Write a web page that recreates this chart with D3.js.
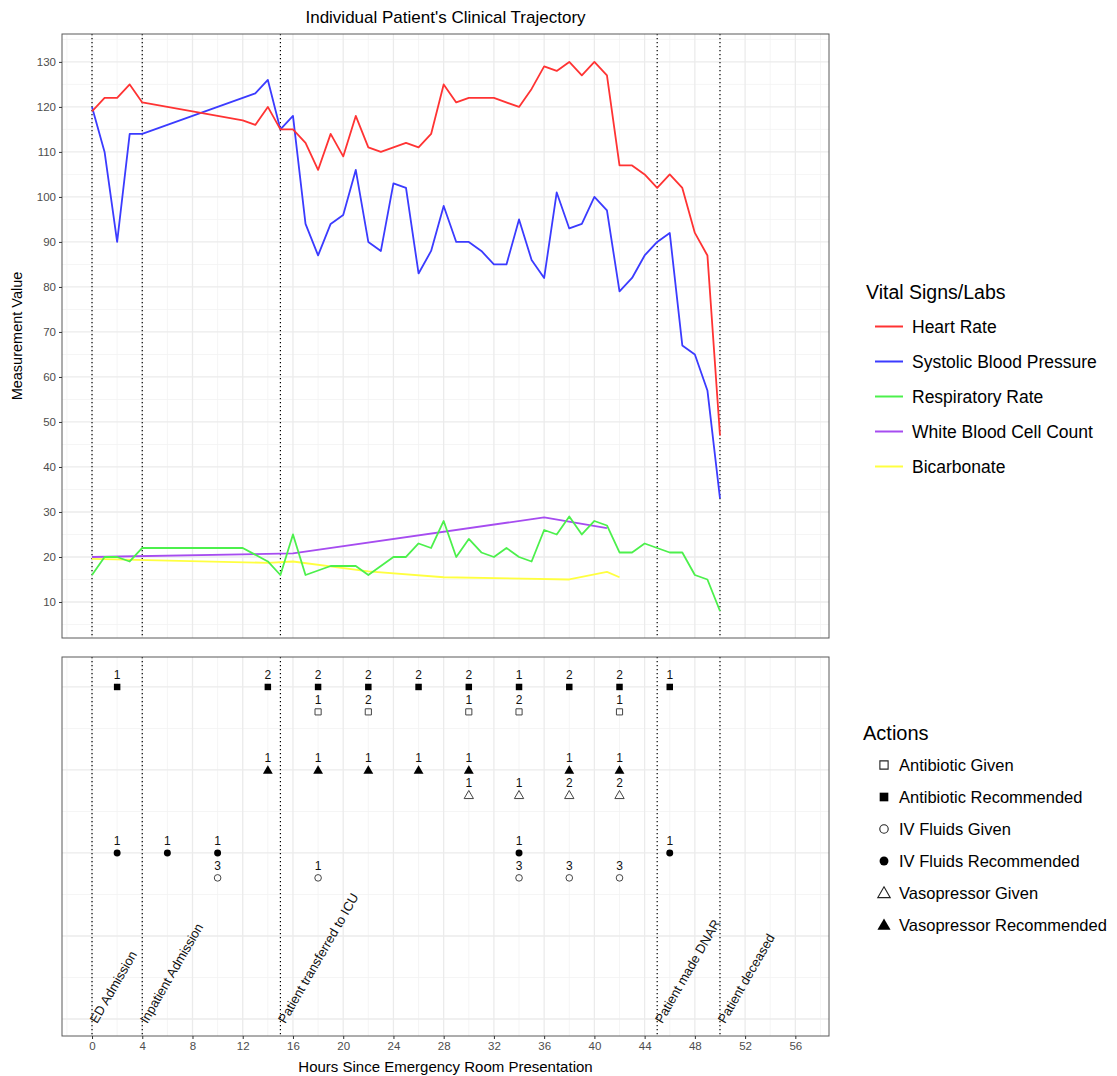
<!DOCTYPE html>
<html>
<head>
<meta charset="utf-8">
<script src="https://cdn.jsdelivr.net/npm/d3@7"></script>
<style>
  body { margin: 0; background: #fff; }
  svg { font-family: "Liberation Sans", Arial, Helvetica, sans-serif; }
</style>
</head>
<body>
<svg id="chart" width="1117" height="1076"></svg>
<script>
// ---------- DATA ----------
const hrHours = [0,1,2,3,4,12,13,14,15,16,17,18,19,20,21,22,23,24,25,26,27,28,29,30,32,34,35,36,37,38,39,40,41,42,43,44,45,46,47,48,49,50];
const hrValues = [119,122,122,125,121,117,116,120,115,115,112,106,114,109,118,111,110,111,112,111,114,125,121,122,122,120,124,129,128,130,127,130,127,107,107,105,102,105,102,92,87,47];

const sbpHours = [0,1,2,3,4,13,14,15,16,17,18,19,20,21,22,23,24,25,26,27,28,29,30,31,32,33,34,35,36,37,38,39,40,41,42,43,44,45,46,47,48,49,50];
const sbpValues = [120,110,90,114,114,123,126,115,118,94,87,94,96,106,90,88,103,102,83,88,98,90,90,88,85,85,95,86,82,101,93,94,100,97,79,82,87,90,92,67,65,57,33];

const rrHours = [0,1,2,3,4,12,14,15,16,17,18,19,21,22,24,25,26,27,28,29,30,31,32,33,34,35,36,37,38,39,40,41,42,43,44,45,46,47,48,49,50];
const rrValues = [16,20,20,19,22,22,19,16,25,16,17,18,18,16,20,20,23,22,28,20,24,21,20,22,20,19,26,25,29,25,28,27,21,21,23,22,21,21,16,15,8];

const wbcHours = [0,16,36,41];
const wbcValues = [20,20.8,28.8,26.4];

const bicarbHours = [0,14,16,22,28,38,41,42];
const bicarbValues = [19.6,18.7,19.0,16.8,15.5,15.0,16.7,15.5];

const seriesNames = ["Heart Rate","Systolic Blood Pressure","Respiratory Rate","White Blood Cell Count","Bicarbonate"];
const seriesColors = ["#ff3333","#3b3bff","#4cf04c","#a64cf0","#ffff40"];

const eventHours = [0,4,15,45,50];
const eventLabels = ["ED Admission","Inpatient Admission","Patient transferred to ICU","Patient made DNAR","Patient deceased"];

const abxRecHours = [2,14,18,22,26,30,34,38,42,46];
const abxRecCounts = [1,2,2,2,2,2,1,2,2,1];
const abxGivenHours = [18,22,30,34,42];
const abxGivenCounts = [1,2,1,2,1];
const vasoRecHours = [14,18,22,26,30,38,42];
const vasoRecCounts = [1,1,1,1,1,1,1];
const vasoGivenHours = [30,34,38,42];
const vasoGivenCounts = [1,1,2,2];
const ivRecHours = [2,6,10,34,46];
const ivRecCounts = [1,1,1,1,1];
const ivGivenHours = [10,18,34,38,42];
const ivGivenCounts = [3,1,3,3,3];

const actionNames = ["Antibiotic Given","Antibiotic Recommended","IV Fluids Given","IV Fluids Recommended","Vasopressor Given","Vasopressor Recommended"];

const xTicks = d3.range(0, 57, 4);
const yTicks = d3.range(10, 131, 10);

// ---------- LAYOUT ----------
const svg = d3.select("#chart");
const P = { left: 62, right: 829, top1: 34, bot1: 638, top2: 657, bot2: 1036 };

const x = d3.scaleLinear().domain([-2.39, 58.68]).range([P.left, P.right]);
const y = d3.scaleLinear().domain([2.0, 136.2]).range([P.bot1, P.top1]);
const y2 = d3.scaleLinear().domain([0.795, 5.361]).range([P.bot2, P.top2]);

function grid(g, yScale, yMajor, yMinor, top, bot) {
  g.append("rect").attr("x", P.left).attr("y", top).attr("width", P.right - P.left).attr("height", bot - top).attr("fill", "#fff");
  const xMinor = d3.range(-2, 59, 2).filter(v => v % 4 !== 0 && x(v) > P.left && x(v) < P.right);
  const xMajor = d3.range(0, 59, 4);
  g.selectAll(".xmin").data(xMinor).join("line")
    .attr("x1", d => x(d)).attr("x2", d => x(d)).attr("y1", top).attr("y2", bot)
    .attr("stroke", "#f2f2f2").attr("stroke-width", 0.8);
  g.selectAll(".ymin").data(yMinor).join("line")
    .attr("x1", P.left).attr("x2", P.right).attr("y1", d => yScale(d)).attr("y2", d => yScale(d))
    .attr("stroke", "#f2f2f2").attr("stroke-width", 0.8);
  g.selectAll(".xmaj").data(xMajor).join("line")
    .attr("x1", d => x(d)).attr("x2", d => x(d)).attr("y1", top).attr("y2", bot)
    .attr("stroke", "#ebebeb").attr("stroke-width", 1.3);
  g.selectAll(".ymaj").data(yMajor).join("line")
    .attr("x1", P.left).attr("x2", P.right).attr("y1", d => yScale(d)).attr("y2", d => yScale(d))
    .attr("stroke", "#ebebeb").attr("stroke-width", 1.3);
}

const g1 = svg.append("g");
grid(g1, y, yTicks, d3.range(5, 136, 10), P.top1, P.bot1);
const g2 = svg.append("g");
grid(g2, y2, [1,2,3,4,5], [1.5,2.5,3.5,4.5], P.top2, P.bot2);

// event lines
[[g1, P.top1, P.bot1], [g2, P.top2, P.bot2]].forEach(([g, t, b]) => {
  g.selectAll(".ev").data(eventHours).join("line")
    .attr("x1", d => x(d)).attr("x2", d => x(d)).attr("y1", t).attr("y2", b)
    .attr("stroke", "#000").attr("stroke-width", 1.2).attr("stroke-dasharray", "1.3,2.7");
});

// series lines
const seriesHours = [hrHours, sbpHours, rrHours, wbcHours, bicarbHours];
const seriesValues = [hrValues, sbpValues, rrValues, wbcValues, bicarbValues];
const line = d3.line().x(d => x(d[0])).y(d => y(d[1]));
[4,3,2,1,0].forEach(i => {
  const pts = seriesHours[i].map((h, j) => [h, seriesValues[i][j]]);
  g1.append("path").datum(pts).attr("d", line)
    .attr("fill", "none").attr("stroke", seriesColors[i]).attr("stroke-width", 1.8)
    .attr("stroke-linejoin", "round");
});

// panel borders
[[P.top1, P.bot1], [P.top2, P.bot2]].forEach(([t, b]) => {
  svg.append("rect").attr("x", P.left).attr("y", t).attr("width", P.right - P.left).attr("height", b - t)
    .attr("fill", "none").attr("stroke", "#5a5a5a").attr("stroke-width", 1);
});

// y axis (top panel)
const yAxisG = svg.append("g").attr("transform", `translate(${P.left},0)`)
  .call(d3.axisLeft(y).tickValues(yTicks).tickSize(3).tickPadding(3));
yAxisG.select(".domain").remove();
yAxisG.selectAll(".tick line").attr("stroke", "#333");
yAxisG.selectAll(".tick text").attr("fill", "#4d4d4d").style("font-size", "11.5px")
  .style("font-family", "'Liberation Sans', Arial, sans-serif");

// x axis (bottom panel)
const xAxisG = svg.append("g").attr("transform", `translate(0,${P.bot2})`)
  .call(d3.axisBottom(x).tickValues(xTicks).tickSize(3).tickPadding(3));
xAxisG.select(".domain").remove();
xAxisG.selectAll(".tick line").attr("stroke", "#333");
xAxisG.selectAll(".tick text").attr("fill", "#4d4d4d").style("font-size", "11.5px")
  .style("font-family", "'Liberation Sans', Arial, sans-serif");

// titles
svg.append("text").attr("x", (P.left + P.right) / 2).attr("y", 17).attr("text-anchor", "middle")
  .attr("dominant-baseline", "central").style("font-size", "17px").text("Individual Patient's Clinical Trajectory");
svg.append("text").attr("transform", `translate(17,${(P.top1 + P.bot1) / 2}) rotate(-90)`)
  .attr("text-anchor", "middle").attr("dominant-baseline", "central").style("font-size", "14.5px").text("Measurement Value");
svg.append("text").attr("x", (P.left + P.right) / 2).attr("y", 1066).attr("text-anchor", "middle")
  .attr("dominant-baseline", "central").style("font-size", "15px").text("Hours Since Emergency Room Presentation");

// event labels
g2.selectAll(".evl").data(eventHours).join("text")
  .attr("transform", d => `translate(${x(d) + 1},${y2(1) + 3}) rotate(-60)`)
  .attr("dy", "0.35em").attr("text-anchor", "start")
  .style("font-size", "13px").attr("fill", "#111")
  .text((d, i) => eventLabels[i]);

// actions
const sym = (type, size) => d3.symbol().type(type).size(size)();
const actionLayers = [
  { hours: abxRecHours, counts: abxRecCounts, yv: 5, type: d3.symbolSquare, filled: true },
  { hours: abxGivenHours, counts: abxGivenCounts, yv: 4.7, type: d3.symbolSquare, filled: false },
  { hours: vasoRecHours, counts: vasoRecCounts, yv: 4, type: d3.symbolTriangle, filled: true },
  { hours: vasoGivenHours, counts: vasoGivenCounts, yv: 3.7, type: d3.symbolTriangle, filled: false },
  { hours: ivRecHours, counts: ivRecCounts, yv: 3, type: d3.symbolCircle, filled: true },
  { hours: ivGivenHours, counts: ivGivenCounts, yv: 2.7, type: d3.symbolCircle, filled: false }
];
actionLayers.forEach(L => {
  const size = L.type === d3.symbolCircle ? 38 : 42;
  const off = L.type === d3.symbolTriangle ? 1 : 0;
  g2.selectAll(null).data(L.hours).join("path")
    .attr("d", sym(L.type, L.filled ? size : size * 0.9))
    .attr("transform", d => `translate(${x(d)},${y2(L.yv) + off})`)
    .attr("fill", L.filled ? "#000" : "none")
    .attr("stroke", L.filled ? "none" : "#444").attr("stroke-width", 1);
  g2.selectAll(null).data(L.hours).join("text")
    .attr("x", d => x(d)).attr("y", y2(L.yv) - 11.5)
    .attr("text-anchor", "middle").attr("dominant-baseline", "central")
    .style("font-size", "12px").attr("fill", "#111")
    .text((d, i) => L.counts[i]);
});

// legend: vital signs
const lg = svg.append("g");
lg.append("text").attr("x", 866).attr("y", 292).attr("dominant-baseline", "central")
  .style("font-size", "19.5px").text("Vital Signs/Labs");
seriesNames.forEach((n, i) => {
  const yy = 326.5 + i * 35;
  lg.append("line").attr("x1", 875).attr("x2", 903).attr("y1", yy).attr("y2", yy)
    .attr("stroke", seriesColors[i]).attr("stroke-width", 2);
  lg.append("text").attr("x", 912).attr("y", yy).attr("dominant-baseline", "central")
    .style("font-size", "17.5px").text(n);
});

// legend: actions
const la = svg.append("g");
la.append("text").attr("x", 863).attr("y", 733).attr("dominant-baseline", "central")
  .style("font-size", "20px").text("Actions");
const legendShapes = [
  [d3.symbolSquare, false], [d3.symbolSquare, true],
  [d3.symbolCircle, false], [d3.symbolCircle, true],
  [d3.symbolTriangle, false], [d3.symbolTriangle, true]
];
actionNames.forEach((n, i) => {
  const yy = 765 + i * 32;
  const [t, f] = legendShapes[i];
  const s = t === d3.symbolCircle ? 62 : 75;
  la.append("path").attr("d", sym(t, f ? s : s * 0.9))
    .attr("transform", `translate(884,${yy + (t === d3.symbolTriangle ? 1 : 0)})`)
    .attr("fill", f ? "#000" : "none").attr("stroke", f ? "none" : "#222").attr("stroke-width", 1.1);
  la.append("text").attr("x", 899).attr("y", yy).attr("dominant-baseline", "central")
    .style("font-size", "16.5px").text(n);
});
</script>
</body>
</html>
